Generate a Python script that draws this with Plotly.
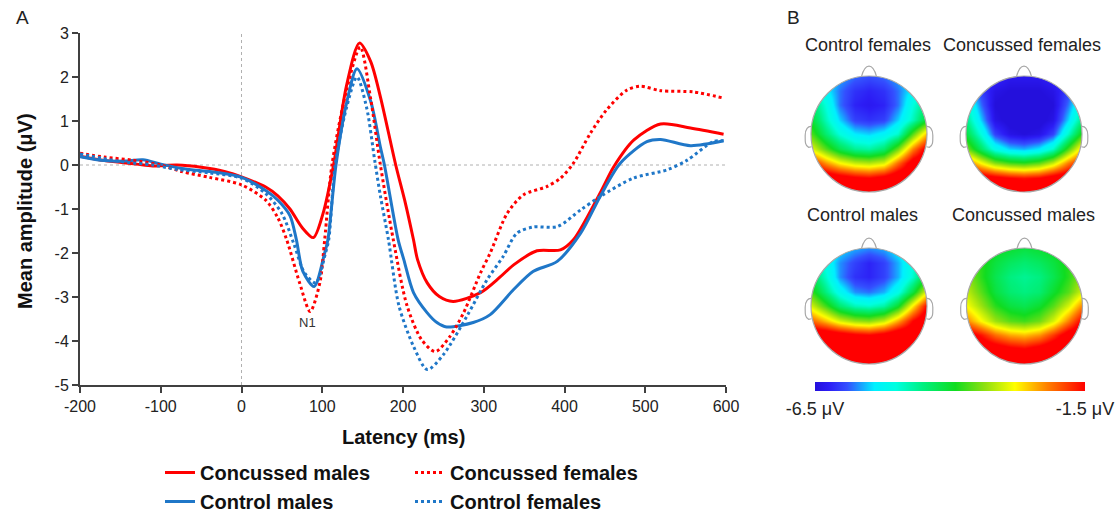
import plotly.graph_objects as go

# ---------------- Panel A data (latency ms, amplitude µV) ----------------
cm_t = [-200, -170, -130, -110, -80, -50, -20, 0, 30, 45, 60, 75, 89, 101, 114, 130, 146, 160, 172, 191, 203, 213, 218, 230, 245, 262, 296, 320, 337, 366, 395, 411, 444, 461, 486, 519, 556, 597]
cm_v = [0.20, 0.10, 0.02, -0.02, 0.00, -0.05, -0.15, -0.27, -0.50, -0.70, -1.00, -1.42, -1.65, -1.10, 0.00, 1.80, 2.77, 2.35, 1.55, 0.00, -0.87, -1.70, -2.15, -2.68, -2.99, -3.10, -2.90, -2.55, -2.27, -1.95, -1.93, -1.70, -0.64, -0.04, 0.57, 0.93, 0.84, 0.70]

ctm_t = [-200, -170, -145, -122, -100, -74, -50, -30, 0, 30, 45, 60, 68, 76, 90, 103, 107, 117, 130, 143, 160, 172, 177, 194, 201, 213, 230, 242, 254, 287, 308, 337, 361, 391, 420, 444, 469, 502, 519, 556, 597]
ctm_v = [0.19, 0.10, 0.09, 0.12, 0.02, -0.08, -0.13, -0.17, -0.28, -0.58, -0.80, -1.15, -1.70, -2.42, -2.76, -2.00, -1.70, 0.00, 1.40, 2.19, 1.45, 0.41, 0.00, -1.70, -2.15, -2.90, -3.36, -3.58, -3.68, -3.58, -3.40, -2.83, -2.42, -2.19, -1.55, -0.72, 0.04, 0.53, 0.58, 0.44, 0.55]

cf_t = [-200, -170, -135, -100, -74, -40, 0, 30, 45, 56, 72, 85, 97, 103, 112, 130, 147, 160, 172, 188, 205, 223, 240, 258, 275, 296, 308, 329, 349, 378, 395, 411, 432, 452, 477, 494, 519, 560, 597]
cf_v = [0.27, 0.18, 0.11, 0.00, -0.15, -0.28, -0.45, -0.80, -1.20, -1.70, -2.68, -3.33, -2.68, -1.70, 0.00, 1.70, 2.68, 1.50, 0.00, -1.70, -3.20, -3.97, -4.24, -3.90, -3.36, -2.45, -2.00, -1.10, -0.68, -0.49, -0.30, 0.04, 0.72, 1.25, 1.70, 1.79, 1.69, 1.66, 1.52]

cfe_t = [-200, -150, -110, -80, -40, 0, 30, 50, 65, 78, 92, 104, 108, 116, 130, 143, 155, 165, 172, 182, 195, 213, 230, 250, 279, 304, 324, 341, 361, 391, 420, 444, 485, 527, 552, 584, 597]
cfe_v = [0.25, 0.08, 0.00, -0.10, -0.18, -0.30, -0.65, -1.10, -1.80, -2.45, -2.68, -2.00, -1.70, 0.00, 1.30, 2.00, 1.30, 0.10, -0.70, -1.70, -3.20, -4.12, -4.65, -4.31, -3.44, -2.61, -2.08, -1.55, -1.41, -1.40, -1.02, -0.72, -0.30, -0.11, 0.11, 0.53, 0.55]

x_ticks = [-200, -100, 0, 100, 200, 300, 400, 500, 600]
y_ticks = [-5, -4, -3, -2, -1, 0, 1, 2, 3]

# ---------------- Panel B data (topographic maps, µV) ----------------
grid_x = [-1, -0.75, -0.5, -0.25, 0, 0.25, 0.5, 0.75, 1]
grid_y = [1, 0.75, 0.5, 0.25, 0, -0.25, -0.5, -0.75, -1]

ctrl_fem = [
    [-5.0, -5.3, -5.6, -5.8, -5.9, -5.8, -5.6, -5.3, -5.0],
    [-4.9, -5.3, -5.8, -6.1, -6.2, -6.1, -5.8, -5.3, -4.9],
    [-4.3, -5.0, -5.8, -6.2, -6.3, -6.2, -5.8, -5.0, -4.4],
    [-4.0, -4.8, -5.5, -6.0, -6.1, -6.0, -5.5, -4.8, -4.0],
    [-3.6, -4.4, -5.0, -5.4, -5.5, -5.3, -4.9, -3.6, -2.5],
    [-2.9, -3.6, -4.2, -4.6, -4.7, -4.4, -3.5, -2.2, -1.3],
    [-1.6, -2.3, -2.8, -3.1, -3.2, -3.0, -2.1, -1.2, -1.0],
    [-1.0, -1.0, -1.2, -1.4, -1.5, -1.3, -1.0, -1.0, -1.0],
    [-1.0, -1.0, -1.0, -1.0, -1.0, -1.0, -1.0, -1.0, -1.0],
]
conc_fem = [
    [-5.4, -5.8, -6.1, -6.3, -6.3, -6.3, -6.1, -5.8, -5.4],
    [-5.3, -6.0, -6.4, -6.5, -6.5, -6.5, -6.4, -6.0, -5.3],
    [-4.8, -5.8, -6.5, -6.6, -6.6, -6.6, -6.5, -5.8, -4.9],
    [-4.5, -5.5, -6.4, -6.6, -6.6, -6.6, -6.4, -5.5, -4.5],
    [-4.1, -5.0, -6.0, -6.4, -6.5, -6.4, -6.0, -4.9, -3.8],
    [-3.4, -4.3, -5.1, -5.5, -5.6, -5.4, -4.9, -3.7, -2.6],
    [-2.0, -2.8, -3.4, -3.7, -3.8, -3.6, -3.1, -2.2, -1.5],
    [-1.0, -1.1, -1.3, -1.5, -1.6, -1.5, -1.2, -1.0, -1.0],
    [-1.0, -1.0, -1.0, -1.0, -1.0, -1.0, -1.0, -1.0, -1.0],
]
ctrl_male = [
    [-4.8, -5.1, -5.4, -5.6, -5.7, -5.6, -5.3, -5.0, -4.6],
    [-4.6, -5.1, -5.7, -6.0, -6.2, -6.0, -5.6, -5.0, -4.4],
    [-4.2, -4.9, -5.7, -6.1, -6.2, -6.0, -5.6, -4.9, -4.0],
    [-3.7, -4.5, -5.2, -5.7, -5.8, -5.6, -5.1, -4.1, -2.9],
    [-3.0, -3.7, -4.4, -4.8, -4.9, -4.7, -4.0, -2.7, -1.5],
    [-2.0, -2.5, -3.0, -3.3, -3.4, -3.1, -2.4, -1.5, -1.0],
    [-1.0, -1.0, -1.2, -1.4, -1.5, -1.3, -1.0, -1.0, -1.0],
    [-1.0, -1.0, -1.0, -1.0, -1.0, -1.0, -1.0, -1.0, -1.0],
    [-1.0, -1.0, -1.0, -1.0, -1.0, -1.0, -1.0, -1.0, -1.0],
]
conc_male = [
    [-3.5, -3.7, -3.9, -4.0, -4.1, -4.0, -3.9, -3.7, -3.5],
    [-3.4, -3.8, -4.1, -4.3, -4.4, -4.3, -4.1, -3.8, -3.4],
    [-3.3, -3.8, -4.2, -4.5, -4.6, -4.5, -4.2, -3.8, -3.3],
    [-3.1, -3.6, -4.1, -4.4, -4.5, -4.4, -4.0, -3.6, -3.0],
    [-2.8, -3.3, -3.8, -4.1, -4.2, -4.0, -3.6, -3.0, -2.2],
    [-2.2, -2.8, -3.3, -3.6, -3.7, -3.5, -3.0, -2.2, -1.4],
    [-1.2, -1.6, -2.1, -2.4, -2.5, -2.3, -1.8, -1.2, -1.0],
    [-1.0, -1.0, -1.1, -1.3, -1.4, -1.2, -1.0, -1.0, -1.0],
    [-1.0, -1.0, -1.0, -1.0, -1.0, -1.0, -1.0, -1.0, -1.0],
]
head_titles = ["Control females", "Concussed females", "Control males", "Concussed males"]
head_maps = [ctrl_fem, conc_fem, ctrl_male, conc_male]
scale_min, scale_max = -6.5, -1.5
scale_labels = ["-6.5 μV", "-1.5 μV"]

# ---------------- styling ----------------
W, H = 1117, 514
FONT = "Liberation Sans, Arial, sans-serif"
RED = "#ff0000"
BLUE = "#1f77c8"
AXC = "#404040"

jet = [
    [0.0, "#2410dc"], [0.05, "#2c1cf5"], [0.12, "#3450ff"], [0.22, "#00f0ff"],
    [0.3, "#00ffe0"], [0.4, "#00f080"], [0.52, "#10dc20"], [0.63, "#90e010"],
    [0.74, "#ffff00"], [0.86, "#ff8000"], [1.0, "#ff0000"],
]

def px_x(p):
    return p / W

def px_y(p):
    return 1 - p / H

fig = go.Figure()

series = [
    (cm_t, cm_v, "Concussed males", RED, "solid", "legend"),
    (ctm_t, ctm_v, "Control males", BLUE, "solid", "legend"),
    (cf_t, cf_v, "Concussed females", RED, "dot", "legend2"),
    (cfe_t, cfe_v, "Control females", BLUE, "dot", "legend2"),
]
for t, v, name, col, dash, leg in series:
    fig.add_trace(go.Scatter(
        x=t, y=v, name="<b>%s</b>" % name, mode="lines",
        line=dict(color=col, width=3, dash=dash, shape="spline", smoothing=0.8),
        legend=leg, hoverinfo="skip",
    ))

axis_common = dict(showline=True, linecolor=AXC, linewidth=2, ticks="outside", ticklen=6,
                   tickwidth=2, tickcolor=AXC, showgrid=False, zeroline=False,
                   tickfont=dict(size=16, color="#222", family=FONT), automargin=False)
fig.update_layout(
    xaxis=dict(domain=[px_x(80), px_x(726)], range=[-200, 600], tickvals=x_ticks,
               ticktext=[str(v) for v in x_ticks], anchor="y", **axis_common),
    yaxis=dict(domain=[px_y(385), px_y(33)], range=[-5, 3], tickvals=y_ticks,
               ticktext=[str(v) for v in y_ticks], anchor="x", **axis_common),
)

shapes = [
    dict(type="line", xref="x", yref="y", x0=0, x1=0, y0=-5, y1=3,
         line=dict(color="#b0b0b0", width=1, dash="dot"), layer="below"),
    dict(type="line", xref="x", yref="y", x0=-200, x1=600, y0=0, y1=0,
         line=dict(color="#b0b0b0", width=1, dash="dot"), layer="below"),
]

# ---------------- heads ----------------
R = 58
half = 1.25
centers = [(869, 134), (1024, 134), (869, 306), (1024.5, 306)]
title_pos = [(868, 45), (1022, 45), (862, 215), (1023, 215)]
k = 0.5523
circle_path = ("M 1,0 C 1,{k} {k},1 0,1 C -{k},1 -1,{k} -1,0 C -1,-{k} -{k},-1 0,-1 "
               "C {k},-1 1,-{k} 1,0 Z").format(k=k)
square_path = "M -{h},-{h} L {h},-{h} L {h},{h} L -{h},{h} Z".format(h=half)
nose_path = "M -0.13,0.99 C -0.1,1.1 -0.07,1.17 0,1.17 C 0.07,1.17 0.1,1.1 0.13,0.99"
lear_path = "M -0.99,0.13 C -1.05,0.14 -1.1,0.08 -1.1,-0.02 C -1.1,-0.12 -1.11,-0.2 -1.04,-0.23 L -0.99,-0.22"
rear_path = "M 0.99,0.13 C 1.05,0.14 1.1,0.08 1.1,-0.02 C 1.1,-0.12 1.11,-0.2 1.04,-0.23 L 0.99,-0.22"
OUT = "#a8a8a8"

annotations = []
for i, (z, (cx, cy), ttl, (tx, ty)) in enumerate(zip(head_maps, centers, head_titles, title_pos)):
    n = i + 2
    xa, ya = "x%d" % n, "y%d" % n
    hp = half * R
    fig.add_trace(go.Heatmap(
        x=grid_x, y=grid_y, z=z, zmin=scale_min, zmax=scale_max, colorscale=jet,
        zsmooth="best", xaxis=xa, yaxis=ya, hoverinfo="skip",
        showscale=(i == 0),
        colorbar=dict(orientation="h", xref="container", yref="container",
                      x=px_x(950), xanchor="center", y=px_y(381.5),
                      yanchor="top", xpad=0, ypad=0, len=270, lenmode="pixels", thickness=9,
                      outlinewidth=0, tickvals=[scale_min, scale_max],
                      ticktext=scale_labels, ticks="outside", ticklen=3,
                      tickcolor="rgba(0,0,0,0)",
                      tickfont=dict(size=18, color="#222", family=FONT)),
    ))
    fig.layout["xaxis%d" % n] = dict(domain=[px_x(cx - hp), px_x(cx + hp)], range=[-half, half],
                                     visible=False, anchor=ya, fixedrange=True)
    fig.layout["yaxis%d" % n] = dict(domain=[px_y(cy + hp), px_y(cy - hp)], range=[-half, half],
                                     visible=False, anchor=xa, fixedrange=True)
    shapes.append(dict(type="path", xref=xa, yref=ya, path=square_path + " " + circle_path,
                       fillrule="evenodd", fillcolor="white", line=dict(width=0), layer="above"))
    shapes.append(dict(type="path", xref=xa, yref=ya, path=circle_path,
                       line=dict(color=OUT, width=1.2), layer="above"))
    for p in (nose_path, lear_path, rear_path):
        shapes.append(dict(type="path", xref=xa, yref=ya, path=p,
                           line=dict(color=OUT, width=1.2), layer="above"))
    annotations.append(dict(text=ttl, x=px_x(tx), y=px_y(ty), xref="paper", yref="paper",
                            showarrow=False, xanchor="center", yanchor="middle",
                            font=dict(size=18, color="#222", family=FONT)))

annotations += [
    dict(text="<b>Latency (ms)</b>", x=px_x(403), y=px_y(437), xref="paper", yref="paper",
         showarrow=False, xanchor="center", yanchor="middle",
         font=dict(size=20, color="#111", family=FONT)),
    dict(text="<b>Mean amplitude (μV)</b>", x=px_x(25), y=px_y(211), xref="paper", yref="paper",
         showarrow=False, xanchor="center", yanchor="middle", textangle=-90,
         font=dict(size=20, color="#111", family=FONT)),
    dict(text="A", x=px_x(14), y=px_y(18), xref="paper", yref="paper", showarrow=False,
         xanchor="left", yanchor="middle", font=dict(size=19, color="#222", family=FONT)),
    dict(text="B", x=px_x(785), y=px_y(18), xref="paper", yref="paper", showarrow=False,
         xanchor="left", yanchor="middle", font=dict(size=19, color="#222", family=FONT)),
    dict(text="N1", x=82, y=-3.58, xref="x", yref="y", showarrow=False,
         font=dict(size=13, color="#333", family=FONT)),
]

legend_common = dict(xref="container", yref="container", xanchor="left", yanchor="top",
                     font=dict(size=20, color="#111", family=FONT), bgcolor="rgba(0,0,0,0)",
                     tracegroupgap=0, itemwidth=30)
fig.update_layout(
    width=W, height=H, margin=dict(l=0, r=0, t=0, b=0, autoexpand=False),
    paper_bgcolor="white", plot_bgcolor="white",
    shapes=shapes, annotations=annotations,
    font=dict(family=FONT),
    legend=dict(x=px_x(160), y=px_y(453), **legend_common),
    legend2=dict(x=px_x(410), y=px_y(453), **legend_common),
)

fig.write_html("out.html", config={"displayModeBar": False},
               post_script="document.body.style.margin='0';document.body.style.overflow='hidden';")
